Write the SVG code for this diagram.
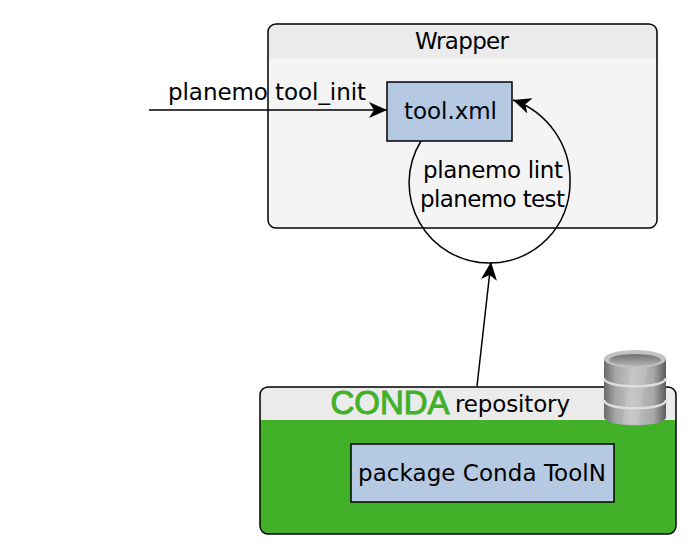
<svg xmlns="http://www.w3.org/2000/svg" width="700" height="557" viewBox="0 0 700 557">
<style>
text{font-family:"DejaVu Sans",sans-serif;font-size:23px;fill:#000;text-anchor:middle}
.frame{fill:none;stroke:#000;stroke-width:1.5}
.box{fill:#b6c9e3;stroke:#000;stroke-width:1.5}
.conn{fill:none;stroke:#000;stroke-width:1.5}
.logo{font-family:"Liberation Sans",sans-serif;font-size:33px;fill:#42b029;stroke:#42b029;stroke-width:1}
</style>
<defs>
<marker id="arrow" markerUnits="userSpaceOnUse" markerWidth="22" markerHeight="20" refX="18" refY="10" orient="auto"><path d="M0 2 L18 10 L0 18 L5 10 Z" fill="#000"/></marker>
<linearGradient id="cyl" x1="0" x2="1" y1="0" y2="0"><stop offset="0" stop-color="#6a6a6a"/><stop offset=".18" stop-color="#a5a5a5"/><stop offset=".45" stop-color="#c4c4c4"/><stop offset=".8" stop-color="#a8a8a8"/><stop offset="1" stop-color="#5c5c5c"/></linearGradient>
<linearGradient id="top" x1="0" x2="0" y1="0" y2="1"><stop offset="0" stop-color="#6f6f6f"/><stop offset="1" stop-color="#b5b5b5"/></linearGradient>
<clipPath id="wc"><rect x="268" y="24" width="389" height="204" rx="8"/></clipPath>
<clipPath id="cc"><rect x="260" y="387" width="416" height="147" rx="8"/></clipPath>
</defs>
<g id="wrapper">
<rect x="268" y="24" width="389" height="204" rx="8" fill="#f4f4f4"/>
<rect x="268" y="24" width="389" height="34" fill="#ebebeb" clip-path="url(#wc)"/>
<rect x="268" y="24" width="389" height="204" rx="8" class="frame"/>
<text x="462" y="49" textLength="94">Wrapper</text>
</g>
<g id="repository">
<rect x="260" y="387" width="416" height="147" rx="8" fill="#42b029"/>
<rect x="260" y="387" width="416" height="33" fill="#ebebeb" clip-path="url(#cc)"/>
<rect x="260" y="387" width="416" height="147" rx="8" class="frame"/>
<text x="390" y="413.500" class="logo" textLength="119">CONDA</text>
<text x="512.5" y="412" textLength="115">repository</text>
<g id="database-icon">
<path d="M604 359 V417 C604 428 666 428 666 417 V359 Z" fill="url(#cyl)"/>
<path d="M632 368 L648 368 L638 424 L622 424 Z" fill="#d2d2d2" opacity=".3"/>
<ellipse cx="635" cy="359" rx="31" ry="9" fill="#c2c2c2"/>
<ellipse cx="635" cy="360" rx="26" ry="6" fill="url(#top)"/>
<path d="M604 378 C604 389 666 389 666 378" fill="none" stroke="#dedede" stroke-width="2.5"/>
<path d="M604 400 C604 411 666 411 666 400" fill="none" stroke="#dedede" stroke-width="2.5"/>
</g>
</g>
<g id="tool-xml">
<rect x="387" y="82" width="125" height="59" class="box"/>
<text x="450.5" y="119" textLength="93">tool.xml</text>
</g>
<g id="package">
<rect x="351" y="444" width="263" height="58" class="box"/>
<text x="482" y="481" textLength="248">package Conda ToolN</text>
</g>
<g id="connectors">
<line x1="149" y1="110" x2="387" y2="110" class="conn" marker-end="url(#arrow)"/>
<path d="M421 141 A80 80 0 0 0 490 263 A80 80 0 0 0 570 183 A85 85 0 0 0 513 100" class="conn" marker-end="url(#arrow)"/>
<line x1="477" y1="386" x2="491" y2="262" class="conn" marker-end="url(#arrow)"/>
</g>
<g id="labels">
<text x="267" y="100" textLength="198">planemo tool_init</text>
<text x="493" y="178" textLength="140">planemo lint</text>
<text x="492.5" y="207" textLength="145">planemo test</text>
</g>
</svg>
